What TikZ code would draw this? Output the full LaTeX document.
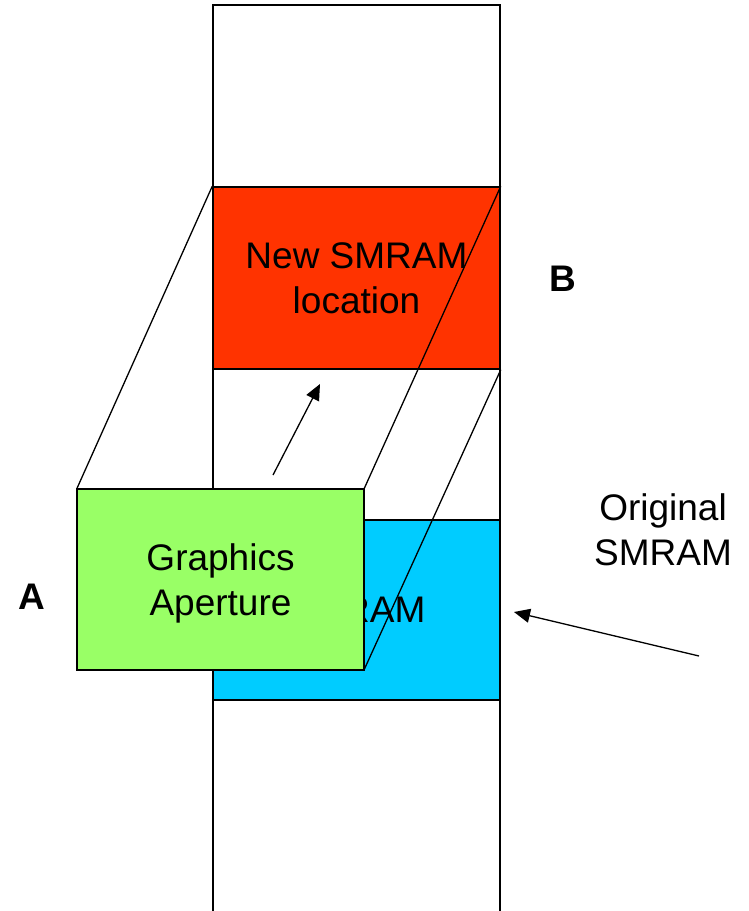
\documentclass[tikz,border=0pt]{standalone}
\usepackage{fontspec}
\setmainfont{Liberation Sans}
\usetikzlibrary{shapes}
\usetikzlibrary {arrows.meta}

\begin{document}
\begin{tikzpicture}[x=1pt,y=-1pt,
  block/.style={rectangle,draw,line width=1.5pt,minimum width=287pt,align=center,font=\fontsize{37}{45}\selectfont},
  link/.style={line width=1.3pt},
  pointer/.style={-{Triangle[length=16pt,width=14pt]},line width=1.3pt},
  tag/.style={font=\fontsize{37}{45}\selectfont\bfseries}]
\useasboundingbox (0,0) rectangle (748,911);

\node[block,fill=white,minimum height=935pt] (mem) at (356.5,472.5){};
\node[block,fill={rgb,255:red,255;green,51;blue,0},minimum height=182pt] (newsm) at (356.5,278){New SMRAM\\location};
\node[block,fill={rgb,255:red,0;green,204;blue,255},minimum height=180pt] (origsm) at (356.5,610){SMRAM};

\draw [link] (76.7,489) -- (newsm.north west);
\draw [link] (364,489) -- (newsm.north east);
\draw [link] (364,670) -- (newsm.south east);

\node[block,fill={rgb,255:red,153;green,255;blue,102},minimum height=181pt,text depth=0pt] (gfx) at (220.5,579.5){Graphics\\Aperture};

\coordinate (movetail) at (273,475);
\coordinate (movetip) at (320,384);
\draw [pointer] (movetail) -- (movetip);

\coordinate (origtail) at (699,656);
\coordinate (origtip) at (514,612);
\draw [pointer] (origtail) -- (origtip);

\node[tag] (a) at (32,597){A};
\node[tag] (b) at (562.5,279){B};
\node[align=center,font=\fontsize{37}{45}\selectfont] (origlbl) at (663,530){Original\\SMRAM};

\end{tikzpicture}
\end{document}
